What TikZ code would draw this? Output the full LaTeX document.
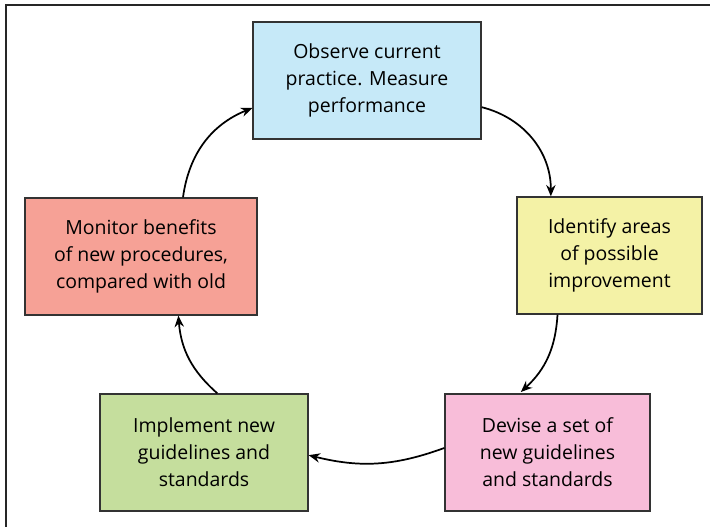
\documentclass[tikz,border=0pt]{standalone}
\usepackage{fontspec}
\setmainfont{Open Sans}
\usetikzlibrary{arrows.meta}
\definecolor{cblue}{HTML}{C6E9F8}
\definecolor{cyellow}{HTML}{F4F2A6}
\definecolor{csalmon}{HTML}{F6A196}
\definecolor{cgreen}{HTML}{C5DE9D}
\definecolor{cpink}{HTML}{F8BDD9}
\definecolor{cborder}{HTML}{333333}
\tikzset{
  stepbox/.style={rectangle, draw=cborder, line width=1pt, inner sep=0pt,
    minimum height=87.75pt, align=center,
    font=\fontsize{14.6}{20.2}\selectfont},
  cyc/.style={line width=1.3pt, -{Stealth[length=8.5pt,width=7pt]}}
}
\begin{document}
\begin{tikzpicture}[x=0.75pt,y=-0.75pt]
\useasboundingbox (0,0) rectangle (710,527);
\draw[line width=1.5pt, black!85] (6,527) -- (6,5) -- (710,5);
\node[stepbox, fill=cblue, minimum width=171pt] (obs) at (367,80.5)
  {Observe current\\practice. Measure\\performance};
\node[stepbox, fill=cyellow, minimum width=138.75pt] (idt) at (609.5,255.5)
  {Identify areas\\of possible\\improvement};
\node[stepbox, fill=cpink, minimum width=153.75pt] (dev) at (547.5,452.5)
  {Devise a set of\\new guidelines\\and standards};
\node[stepbox, fill=cgreen, minimum width=156pt] (imp) at (204,452.5)
  {Implement new\\guidelines and\\standards};
\node[stepbox, fill=csalmon, minimum width=174pt] (mon) at (141,256.5)
  {Monitor benefits\\of new procedures,\\compared with old};
\draw[cyc] ([yshift=-20pt]obs.east) to[bend left=38] ([xshift=-44pt]idt.north);
\draw[cyc] ([xshift=-39pt]idt.south) to[bend left=22] ([xshift=-20pt,yshift=1pt]dev.north);
\draw[cyc] ([yshift=3.4pt]dev.west) to[bend left=17] ([yshift=-2pt]imp.east);
\draw[cyc] ([xshift=10pt]imp.north) to[bend left=22] ([xshift=28pt]mon.south);
\draw[cyc] ([xshift=31.5pt]mon.north) to[bend left=30] ([yshift=-20.6pt]obs.west);
\end{tikzpicture}
\end{document}
